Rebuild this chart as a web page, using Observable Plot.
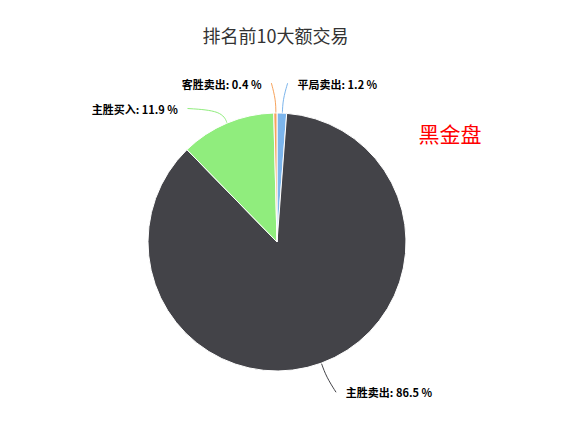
<!DOCTYPE html>
<html><head><meta charset="utf-8">
<script src="https://cdn.jsdelivr.net/npm/d3@7"></script>
<script src="https://cdn.jsdelivr.net/npm/@observablehq/plot@0.6"></script>
<style>body{margin:0;background:#fff;} svg{display:block}</style>
</head><body><div id="chart"></div>
<script>
// ---- data ----
const categories = ["平局卖出", "主胜卖出", "主胜买入", "客胜卖出"];
const shares = [1.2, 86.5, 11.9, 0.4];
const colors = ["#7cb5ec", "#434348", "#90ed7d", "#f7a35c"];
const title = "排名前10大额交易";
const note = "黑金盘";

// ---- layout ----
const W = 576, H = 421, CX = 277, CY = 242, R = 129;
const LABEL_DIST = 30, GAP = 25, BEND = 14, CONN_PAD = 4, TEXT_PAD = 10;
const FONT = "'Noto Sans CJK SC', 'Noto Sans', sans-serif";

const rows = categories.map((name, i) => ({name, value: shares[i]}));
const arcs = d3.pie().sort(null).value(d => d.value)(rows);
const Rl = (R + LABEL_DIST) / R;

const labels = arcs.map(a => {
  const mid = (a.startAngle + a.endAngle) / 2;
  return {name: a.data.name, value: a.data.value, mid,
          left: Math.sin(mid) < 0,
          x: Math.sin(mid) * Rl, y: Math.cos(mid) * Rl};
});
// simple vertical collision avoidance per side
for (const side of [true, false]) {
  const s = labels.filter(l => l.left === side).sort((a, b) => b.y - a.y);
  for (let i = 1; i < s.length; i++) {
    const maxY = s[i - 1].y - GAP / R;
    if (s[i].y > maxY) {
      s[i].y = maxY;
      s[i].x = (side ? -1 : 1) * Math.sqrt(Math.max(0, Rl * Rl - maxY * maxY));
    }
  }
}
labels.forEach(l => { l.x += (l.left ? -1 : 1) * CONN_PAD / R; });

const connectors = labels.flatMap(l => [
  {name: l.name, x: l.x, y: l.y},
  {name: l.name, x: Math.sin(l.mid) * (1 + BEND / R), y: Math.cos(l.mid) * (1 + BEND / R)},
  {name: l.name, x: Math.sin(l.mid), y: Math.cos(l.mid)}
]);

const fmt = l => `${l.name}: ${l.value.toFixed(1)} %`;

function pieMark(index, scales, values, dimensions, context) {
  const cx = scales.x(0), cy = scales.y(0), r = scales.x(1) - scales.x(0);
  const arc = d3.arc().innerRadius(0).outerRadius(r);
  const g = d3.create("svg:g").attr("transform", `translate(${cx},${cy})`);
  g.selectAll("path").data(arcs).join("path")
    .attr("d", arc)
    .attr("fill", d => scales.color(d.data.name))
    .attr("stroke", "#ffffff")
    .attr("stroke-width", 1)
    .attr("stroke-linejoin", "round");
  return g.node();
}

const textStyle = {fontSize: 11, fontWeight: "bold", fill: "#000", stroke: "#fff",
                   strokeWidth: 2, lineAnchor: "middle", dy: 2, fontFamily: FONT};

const chart = Plot.plot({
  width: W, height: H, margin: 0,
  style: {fontFamily: FONT, background: "#fff", overflow: "visible"},
  x: {domain: [-1, 1], range: [CX - R, CX + R], axis: null},
  y: {domain: [-1, 1], range: [CY + R, CY - R], axis: null},
  color: {domain: categories, range: colors},
  marks: [
    Plot.line(connectors, {x: "x", y: "y", z: "name", stroke: "name", strokeWidth: 1, curve: "basis"}),
    pieMark,
    Plot.text(labels.filter(l => !l.left), {x: "x", y: "y", text: fmt, textAnchor: "start", dx: TEXT_PAD, ...textStyle}),
    Plot.text(labels.filter(l => l.left), {x: "x", y: "y", text: fmt, textAnchor: "end", dx: -TEXT_PAD, ...textStyle}),
    Plot.text([title], {frameAnchor: "top", text: d => d, dx: -13, dy: 37, lineAnchor: "middle",
                        fontSize: 18, fill: "#333333", fontFamily: FONT}),
    Plot.text([note], {frameAnchor: "top-left", text: d => d, dx: 418, dy: 135, textAnchor: "start",
                       lineAnchor: "middle", fontSize: 21, fill: "#ff0000", fontFamily: FONT})
  ]
});
document.getElementById("chart").append(chart);
</script>
</body></html>
